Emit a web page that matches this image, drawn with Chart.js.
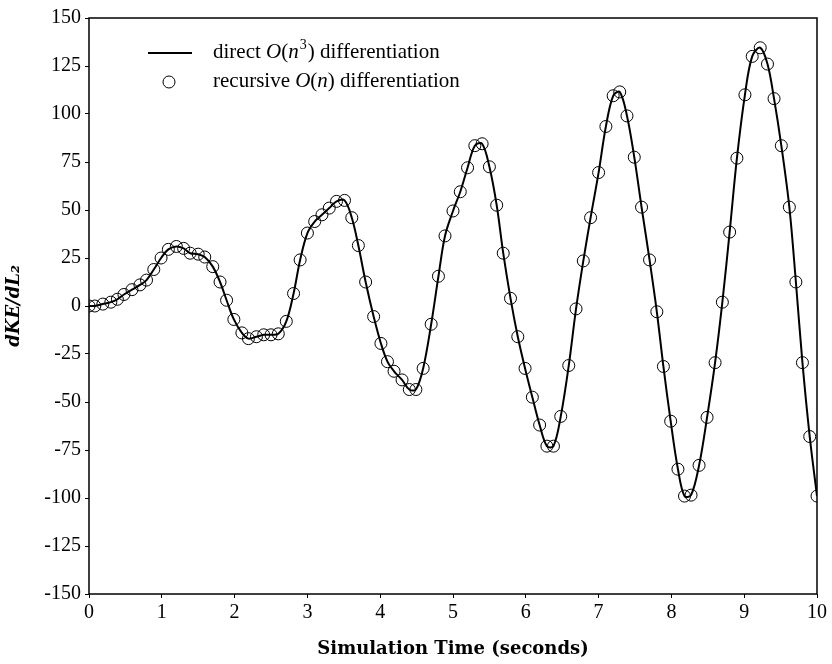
<!DOCTYPE html>
<html>
<head>
<meta charset="utf-8">
<script src="https://cdn.jsdelivr.net/npm/chart.js@4"></script>
<style>
  html, body { margin: 0; padding: 0; background: #fff; }
  #wrap { width: 832px; height: 664px; }
</style>
</head>
<body>
<div id="wrap"><canvas id="chart" width="832" height="664"></canvas></div>
<script>
// Werte
const times = [0.00, 0.08, 0.19, 0.30, 0.39, 0.48, 0.59, 0.70, 0.79, 0.89,
    0.99, 1.09, 1.20, 1.30, 1.39, 1.50, 1.59, 1.70, 1.80, 1.89,
    1.99, 2.10, 2.19, 2.30, 2.40, 2.50, 2.60, 2.71, 2.81, 2.90,
    3.00, 3.10, 3.20, 3.30, 3.40, 3.51, 3.61, 3.70, 3.80, 3.91,
    4.01, 4.10, 4.19, 4.30, 4.40, 4.49, 4.59, 4.70, 4.80, 4.89,
    5.00, 5.10, 5.20, 5.30, 5.40, 5.50, 5.60, 5.69, 5.79, 5.89,
    5.99, 6.09, 6.19, 6.29, 6.38, 6.48, 6.59, 6.69, 6.79, 6.89,
    7.00, 7.10, 7.20, 7.29, 7.39, 7.49, 7.59, 7.70, 7.80, 7.89,
    7.99, 8.09, 8.18, 8.27, 8.38, 8.49, 8.60, 8.70, 8.80, 8.90,
    9.01, 9.11, 9.22, 9.32, 9.41, 9.51, 9.62, 9.71, 9.80, 9.90, 10.00];
const dKE = [0, 0, 1, 2, 3.5, 6, 8.5, 11, 13.5, 19,
    25, 29.5, 31, 30, 27.5, 27, 25.5, 20.5, 12.5, 3,
    -7, -14, -17, -16, -15, -15, -14.5, -8, 6.5, 24,
    38, 44, 47.5, 51, 54.5, 55, 46, 31.5, 12.5, -5.5,
    -19.5, -29, -34, -38.5, -43.5, -43.5, -32.5, -9.5, 15.5, 36.5,
    49.5, 59.5, 72, 83.5, 84.5, 72.5, 52.5, 27.5, 4, -16,
    -32.5, -47.5, -62, -73, -73, -57.5, -31, -1.5, 23.5, 46,
    69.5, 93.5, 109.5, 111.5, 99, 77.5, 51.5, 24, -3, -31.5,
    -60, -85, -99, -98.5, -83, -58, -29.5, 2, 38.5, 77,
    110, 130, 134.5, 126, 108, 83.5, 51.5, 12.5, -29.5, -68, -99];
const xTicks = [0, 1, 2, 3, 4, 5, 6, 7, 8, 9, 10];
const yTicks = [-150, -125, -100, -75, -50, -25, 0, 25, 50, 75, 100, 125, 150];

const points = times.map((t, i) => ({ x: t, y: dKE[i] }));
const serif = "'Liberation Serif', 'DejaVu Serif', serif";
const wideSerif = "'DejaVu Serif', serif";

// Rahmen um die Zeichenfläche
const framePlugin = {
    id: "frame",
    afterDraw(chart) {
        const { ctx, chartArea: a } = chart;
        ctx.save();
        ctx.strokeStyle = "#000";
        ctx.lineWidth = 1.5;
        ctx.strokeRect(a.left, a.top, a.right - a.left, a.bottom - a.top);
        ctx.restore();
    }
};

// Legende mit kursiven Teilen
const legendPlugin = {
    id: "mathLegend",
    afterDraw(chart) {
        const { ctx, chartArea: a } = chart;
        const x0 = a.left + 59, y0 = a.top + 35;
        ctx.save();
        ctx.strokeStyle = "#000";
        ctx.lineWidth = 2;
        ctx.beginPath();
        ctx.moveTo(x0, y0);
        ctx.lineTo(x0 + 44, y0);
        ctx.stroke();
        ctx.lineWidth = 1;
        ctx.beginPath();
        ctx.arc(x0 + 21, y0 + 29, 6, 0, Math.PI * 2);
        ctx.stroke();

        ctx.fillStyle = "#000";
        ctx.textBaseline = "middle";
        const drawParts = (parts, x, y) => {
            parts.forEach(([txt, st]) => {
                ctx.font = st + " 21px " + serif;
                ctx.fillText(txt, x, y);
                x += ctx.measureText(txt).width;
            });
            return x;
        };
        let x = drawParts([["direct ", "normal"], ["O", "italic"], ["(", "normal"], ["n", "italic"]], x0 + 65, y0 - 1);
        ctx.font = "normal 14px " + serif;
        ctx.fillText("3", x + 1, y0 - 8);
        x += ctx.measureText("3").width + 2;
        drawParts([[") differentiation", "normal"]], x, y0 - 1);
        drawParts([["recursive ", "normal"], ["O", "italic"], ["(", "normal"], ["n", "italic"],
            [") differentiation", "normal"]], x0 + 65, y0 + 28);
        ctx.restore();
    }
};

new Chart(document.getElementById("chart"), {
    type: "scatter",
    data: {
        datasets: [{
            label: "direct O(n^3) differentiation",
            data: points,
            showLine: true,
            borderColor: "#000",
            borderWidth: 2,
            pointRadius: 0,
            tension: 0.35,
            order: 2
        }, {
            label: "recursive O(n) differentiation",
            data: points,
            showLine: false,
            pointRadius: 6,
            pointBorderWidth: 1,
            pointBorderColor: "#000",
            pointBackgroundColor: "rgba(0,0,0,0)",
            order: 1
        }]
    },
    options: {
        responsive: false,
        animation: false,
        layout: { padding: { top: 18, right: 15, left: 0, bottom: 0 } },
        plugins: {
            legend: { display: false },
            tooltip: { enabled: false }
        },
        scales: {
            x: {
                type: "linear",
                min: 0,
                max: 10,
                afterBuildTicks: s => { s.ticks = xTicks.map(v => ({ value: v })); },
                afterFit: s => { s.height = 70; },
                grid: { drawOnChartArea: false, color: "#000", tickLength: 4 },
                border: { display: false },
                ticks: { color: "#000", font: { family: serif, size: 20 }, padding: 3 },
                title: {
                    display: true,
                    text: "Simulation Time (seconds)",
                    color: "#000",
                    font: { family: wideSerif, size: 18, weight: "bold" },
                    padding: { top: 4, bottom: 4 }
                }
            },
            y: {
                min: -150,
                max: 150,
                afterBuildTicks: s => { s.ticks = yTicks.map(v => ({ value: v })); },
                afterFit: s => { s.width = 89; },
                grid: { drawOnChartArea: false, color: "#000", tickLength: 4 },
                border: { display: false },
                ticks: { color: "#000", font: { family: serif, size: 20 }, padding: 4 },
                title: {
                    display: true,
                    text: "dKE/dL\u2082",
                    color: "#000",
                    font: { family: wideSerif, size: 18, weight: "bold", style: "italic" },
                    padding: { top: 4, bottom: 4 }
                }
            }
        }
    },
    plugins: [framePlugin, legendPlugin]
});
</script>
</body>
</html>
